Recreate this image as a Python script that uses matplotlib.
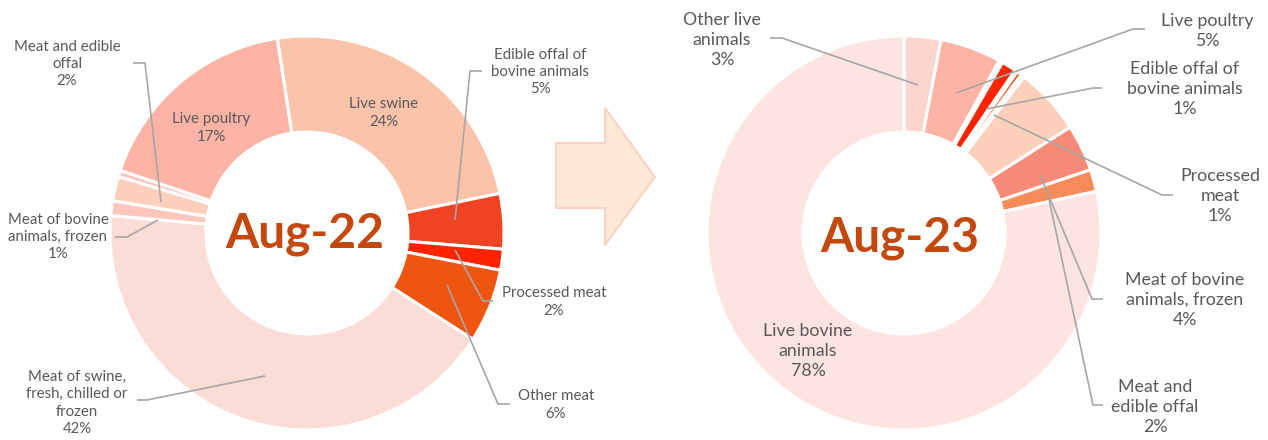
import matplotlib
matplotlib.use("Agg")
import matplotlib.pyplot as plt
from matplotlib.patches import Polygon

# Aug-22 share of imports, clockwise from the top
cats_22 = ["Live swine", "Edible offal of bovine animals", "Processed meat", "Other meat",
           "Meat of swine, fresh, chilled or frozen", "Meat of bovine animals, frozen",
           "Meat and edible offal", "Other live animals", "Live poultry"]
vals_22 = [24.0, 4.5, 1.7, 6.0, 42.0, 1.2, 2.0, 0.5, 17.3]
pct_22 = ["24%", "5%", "2%", "6%", "42%", "1%", "2%", "0%", "17%"]
cols_22 = ["#fbc3a9", "#f04323", "#fe2400", "#f0550f", "#fcdcd6", "#fcc6bc",
           "#fdd0bd", "#fcc3b8", "#fdb4a6"]

# Aug-23 share of imports, clockwise from the top
cats_23 = ["Other live animals", "Live poultry", "Other meat", "Edible offal of bovine animals",
           "Meat of swine, fresh, chilled or frozen", "Processed meat", "Other",
           "Live swine", "Meat of bovine animals, frozen", "Meat and edible offal",
           "Live bovine animals"]
vals_23 = [3.0, 5.0, 0.3, 1.2, 0.2, 0.4, 0.3, 5.5, 3.8, 1.8, 78.0]
pct_23 = ["3%", "5%", "0%", "1%", "0%", "1%", "0%", "5%", "4%", "2%", "78%"]
cols_23 = ["#fcd5ce", "#fdb4a6", "#fde0d8", "#fe2400", "#fde0d8", "#f0550f",
           "#fde0d8", "#fdd0bb", "#f78b78", "#f78b5a", "#fde4e0"]

H = 440
TXT = "#595959"
LINE = "#a6a6a6"
FONT = ["Lato", "DejaVu Sans"]

fig = plt.figure(figsize=(12.68, 4.40), dpi=100)
ax = fig.add_axes([0, 0, 1, 1])

ax.pie(vals_22, colors=cols_22, startangle=98.7, counterclock=False,
       radius=197, center=(307, H - 233),
       wedgeprops=dict(width=96, edgecolor="white", linewidth=2.2))
ax.pie(vals_23, colors=cols_23, startangle=90, counterclock=False,
       radius=197, center=(904, H - 233),
       wedgeprops=dict(width=96, edgecolor="white", linewidth=2.2))

# arrow between the two donuts
arrow = [(556, 143), (605, 143), (605, 108), (655, 177), (605, 245), (605, 208), (556, 208)]
ax.add_patch(Polygon([(x, H - y) for x, y in arrow], closed=True,
                     facecolor="#fce8d4", edgecolor="#fcd2c6", linewidth=1.5))

ax.text(305, H - 247, "Aug-22", ha="center", va="baseline", fontsize=34.5,
        fontweight="bold", color="#c4470c", family=FONT)
ax.text(900, H - 252, "Aug-23", ha="center", va="baseline", fontsize=34.5,
        fontweight="bold", color="#c4470c", family=FONT)


def lab(x, y, s, size, lsp):
    ax.text(x, H - y, s, ha="center", va="center", fontsize=size, color=TXT,
            family=FONT, linespacing=lsp)


def leader(pts):
    ax.plot([p[0] for p in pts], [H - p[1] for p in pts], color=LINE, lw=1.2,
            solid_capstyle="butt")


# left donut labels
s1, l1 = 10.8, 1.3
lab(211, 128, cats_22[8] + "\n" + pct_22[8], s1, l1)
lab(384, 113, cats_22[0] + "\n" + pct_22[0], s1, l1)
lab(540, 72, "Edible offal of\nbovine animals\n" + pct_22[1], s1, l1)
lab(554, 302, cats_22[2] + "\n" + pct_22[2], s1, l1)
lab(556, 405, cats_22[3] + "\n" + pct_22[3], s1, l1)
lab(77, 403, "Meat of swine,\nfresh, chilled or\nfrozen\n" + pct_22[4], s1, l1)
lab(58, 237, "Meat of bovine\nanimals, frozen\n" + pct_22[5], s1, l1)
lab(67, 64, "Meat and edible\noffal\n" + pct_22[6], s1, l1)

leader([(133, 63), (145, 63), (161, 202)])
leader([(115, 237), (127, 237), (158, 220)])
leader([(137, 400), (147, 400), (265, 376)])
leader([(482, 71), (470, 71), (455, 220)])
leader([(493, 301), (483, 301), (455, 250)])
leader([(510, 404), (498, 404), (447, 285)])

# right donut labels
s2, l2 = 12.8, 1.27
lab(722, 40, "Other live\nanimals\n" + pct_23[0], s2, l2)
lab(1207, 31, cats_23[1] + "\n" + pct_23[1], s2, l2)
lab(1185, 89, "Edible offal of\nbovine animals\n" + pct_23[3], s2, l2)
lab(1220, 196, "Processed\nmeat\n" + pct_23[5], s2, l2)
lab(1185, 300, "Meat of bovine\nanimals, frozen\n" + pct_23[8], s2, l2)
lab(1155, 407, "Meat and\nedible offal\n" + pct_23[9], s2, l2)
lab(808, 351, "Live bovine\nanimals\n" + pct_23[10], s2, l2)

leader([(770, 38), (782, 38), (918, 85)])
leader([(1145, 29), (1133, 29), (956, 93)])
leader([(1102, 88), (1093, 88), (986, 109)])
leader([(1173, 195), (1162, 195), (994, 115)])
leader([(1103, 299), (1092, 299), (1040, 175)])
leader([(1103, 405), (1093, 405), (1049, 199)])

ax.set_xlim(0, 1268)
ax.set_ylim(0, H)
ax.set_aspect("equal")
ax.axis("off")

fig.savefig("out.png", dpi=100, facecolor="white")
